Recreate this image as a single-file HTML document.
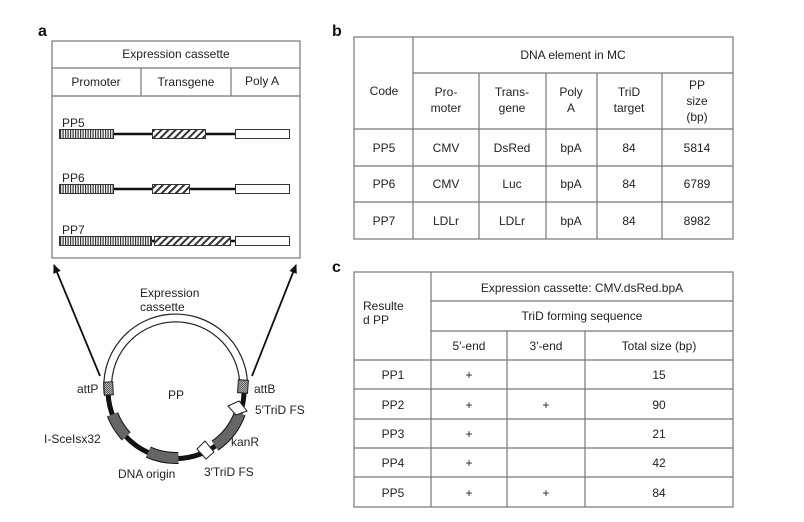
<!DOCTYPE html>
<html><head><meta charset="utf-8"><style>
html,body{margin:0;padding:0;background:#fff}
svg{display:block;font-family:"Liberation Sans",Arial,sans-serif}
text{font-size:12px;fill:#222}
</style></head><body>
<svg width="804" height="522" viewBox="0 0 804 522" xmlns="http://www.w3.org/2000/svg">
<defs>
<pattern id="vs" width="2.5" height="12" patternUnits="userSpaceOnUse"><rect width="2.5" height="12" fill="#fff"/><rect width="1.2" height="12" fill="#333"/></pattern>
<pattern id="dg" width="5" height="5" patternUnits="userSpaceOnUse" patternTransform="rotate(45)"><rect width="5" height="5" fill="#fff"/><rect width="2" height="5" fill="#333"/></pattern>
<pattern id="ck" width="2" height="2" patternUnits="userSpaceOnUse"><rect width="2" height="2" fill="#ddd"/><rect width="1" height="1" fill="#333"/><rect x="1" y="1" width="1" height="1" fill="#333"/></pattern>
<marker id="ah" markerWidth="10" markerHeight="10" refX="8" refY="5" orient="auto" markerUnits="userSpaceOnUse"><path d="M0,1 L9,5 L0,9 Z" fill="#111"/></marker>
</defs>
<text x="38" y="36" style="font-size:16px;font-weight:bold;fill:#111">a</text>
<text x="332" y="36" style="font-size:16px;font-weight:bold;fill:#111">b</text>
<text x="332" y="272" style="font-size:16px;font-weight:bold;fill:#111">c</text>

<!-- panel a -->
<g stroke="#777" stroke-width="1.2" fill="none">
<rect x="52" y="41" width="248" height="217"/>
<line x1="52" y1="68" x2="300" y2="68"/>
<line x1="52" y1="96" x2="300" y2="96"/>
<line x1="141" y1="68" x2="141" y2="96"/>
<line x1="231" y1="68" x2="231" y2="96"/>
</g>
<text x="176" y="58" text-anchor="middle">Expression cassette</text>
<text x="96" y="86" text-anchor="middle">Promoter</text>
<text x="186" y="86" text-anchor="middle">Transgene</text>
<text x="262" y="85" text-anchor="middle">Poly A</text>

<text x="62" y="127">PP5</text>
<line x1="113" y1="134" x2="236" y2="134" stroke="#111" stroke-width="2.5"/>
<rect x="59.5" y="129.5" width="54" height="9" fill="url(#vs)" stroke="#333"/>
<rect x="152.5" y="129.5" width="53" height="9" fill="url(#dg)" stroke="#333"/>
<rect x="235.5" y="129.5" width="54" height="9" fill="#fff" stroke="#333"/>

<text x="62" y="182">PP6</text>
<line x1="113" y1="189" x2="236" y2="189" stroke="#111" stroke-width="2.5"/>
<rect x="59.5" y="184.5" width="54" height="9" fill="url(#vs)" stroke="#333"/>
<rect x="152.5" y="184.5" width="37" height="9" fill="url(#dg)" stroke="#333"/>
<rect x="235.5" y="184.5" width="54" height="9" fill="#fff" stroke="#333"/>

<text x="62" y="234">PP7</text>
<line x1="150" y1="241" x2="236" y2="241" stroke="#111" stroke-width="2.5"/>
<rect x="59.5" y="236.5" width="92" height="9" fill="url(#vs)" stroke="#333"/>
<rect x="154.5" y="236.5" width="76" height="9" fill="url(#dg)" stroke="#333"/>
<rect x="235.5" y="236.5" width="54" height="9" fill="#fff" stroke="#333"/>

<!-- arrows -->
<line x1="100" y1="376" x2="54" y2="265" stroke="#111" stroke-width="1.8" marker-end="url(#ah)"/>
<line x1="252" y1="376" x2="296" y2="265" stroke="#111" stroke-width="1.8" marker-end="url(#ah)"/>

<!-- plasmid: center 176,390 r 68 -->
<path d="M108.1,393.6 A68,68 0 1 1 243.6,382.9" fill="none" stroke="#222" stroke-width="9"/>
<path d="M108.1,393.6 A68,68 0 1 1 243.6,382.9" fill="none" stroke="#fff" stroke-width="6.6"/>
<path d="M243.6,382.9 A68,68 0 1 1 108.1,393.6" fill="none" stroke="#111" stroke-width="5"/>
<!-- gray boxes -->
<g fill="none">
<path d="M126.3,436.4 A68,68 0 0 1 112.5,414.4" stroke="#111" stroke-width="12"/>
<path d="M126.3,436.4 A68,68 0 0 1 112.5,414.4" stroke="#666" stroke-width="10"/>
<path d="M178.4,458 A68,68 0 0 1 148.3,452.1" stroke="#111" stroke-width="12"/>
<path d="M178.4,458 A68,68 0 0 1 148.3,452.1" stroke="#666" stroke-width="10"/>
<path d="M239.9,413.3 A68,68 0 0 1 215,445.7" stroke="#111" stroke-width="12"/>
<path d="M239.9,413.3 A68,68 0 0 1 215,445.7" stroke="#666" stroke-width="10"/>
</g>
<!-- checkered att -->
<rect x="104" y="382" width="9" height="13" fill="url(#ck)" stroke="#222" transform="rotate(-3 108 388)"/>
<rect x="238" y="380" width="10" height="13" fill="url(#ck)" stroke="#222" transform="rotate(4 243 386)"/>
<!-- diamonds -->
<path d="M228,406 L239,401 L247,411 L236,415 Z" fill="#fff" stroke="#222"/>
<path d="M197,449 L205,441 L214,452 L206,459 Z" fill="#fff" stroke="#222"/>

<text x="140" y="297">Expression</text>
<text x="140" y="311">cassette</text>
<text x="168" y="399">PP</text>
<text x="77" y="393">attP</text>
<text x="254" y="393">attB</text>
<text x="255" y="414">5′TriD FS</text>
<text x="231" y="446">kanR</text>
<text x="204" y="476">3′TriD FS</text>
<text x="118" y="478">DNA origin</text>
<text x="44" y="443">I-SceIsx32</text>

<!-- table b -->
<g stroke="#777" stroke-width="1.2" fill="none">
<rect x="354" y="37" width="379" height="202"/>
<line x1="413" y1="73" x2="733" y2="73"/>
<line x1="354" y1="129" x2="733" y2="129"/>
<line x1="354" y1="166" x2="733" y2="166"/>
<line x1="354" y1="202" x2="733" y2="202"/>
<line x1="413" y1="37" x2="413" y2="239"/>
<line x1="479" y1="73" x2="479" y2="239"/>
<line x1="546" y1="73" x2="546" y2="239"/>
<line x1="597" y1="73" x2="597" y2="239"/>
<line x1="662" y1="73" x2="662" y2="239"/>
</g>
<text x="573" y="59" text-anchor="middle">DNA element in MC</text>
<text x="384" y="95" text-anchor="middle">Code</text>
<g text-anchor="middle">
<text x="446" y="96">Pro-</text><text x="446" y="112">moter</text>
<text x="512" y="96">Trans-</text><text x="512" y="112">gene</text>
<text x="571" y="96">Poly</text><text x="571" y="112">A</text>
<text x="629" y="96">TriD</text><text x="629" y="112">target</text>
<text x="697" y="89">PP</text><text x="697" y="105">size</text><text x="697" y="121">(bp)</text>
<text x="384" y="152">PP5</text><text x="446" y="152">CMV</text><text x="512" y="152">DsRed</text><text x="571" y="152">bpA</text><text x="629" y="152">84</text><text x="697" y="152">5814</text>
<text x="384" y="188">PP6</text><text x="446" y="188">CMV</text><text x="512" y="188">Luc</text><text x="571" y="188">bpA</text><text x="629" y="188">84</text><text x="697" y="188">6789</text>
<text x="384" y="225">PP7</text><text x="446" y="225">LDLr</text><text x="512" y="225">LDLr</text><text x="571" y="225">bpA</text><text x="629" y="225">84</text><text x="697" y="225">8982</text>
</g>

<!-- table c -->
<g stroke="#777" stroke-width="1.2" fill="none">
<rect x="354" y="272" width="379" height="235"/>
<line x1="431" y1="301" x2="733" y2="301"/>
<line x1="431" y1="331" x2="733" y2="331"/>
<line x1="354" y1="360" x2="733" y2="360"/>
<line x1="354" y1="389" x2="733" y2="389"/>
<line x1="354" y1="419" x2="733" y2="419"/>
<line x1="354" y1="448" x2="733" y2="448"/>
<line x1="354" y1="477" x2="733" y2="477"/>
<line x1="431" y1="272" x2="431" y2="507"/>
<line x1="507" y1="331" x2="507" y2="507"/>
<line x1="585" y1="331" x2="585" y2="507"/>
</g>
<text x="363" y="310">Resulte</text>
<text x="363" y="324">d PP</text>
<g text-anchor="middle">
<text x="582" y="292">Expression cassette: CMV.dsRed.bpA</text>
<text x="582" y="320">TriD forming sequence</text>
<text x="469" y="350">5′-end</text><text x="546" y="350">3′-end</text><text x="659" y="350">Total size (bp)</text>
<text x="393" y="379">PP1</text><text x="469" y="379">+</text><text x="659" y="379">15</text>
<text x="393" y="409">PP2</text><text x="469" y="409">+</text><text x="546" y="409">+</text><text x="659" y="409">90</text>
<text x="393" y="438">PP3</text><text x="469" y="438">+</text><text x="659" y="438">21</text>
<text x="393" y="467">PP4</text><text x="469" y="467">+</text><text x="659" y="467">42</text>
<text x="393" y="497">PP5</text><text x="469" y="497">+</text><text x="546" y="497">+</text><text x="659" y="497">84</text>
</g>
</svg>
</body></html>
